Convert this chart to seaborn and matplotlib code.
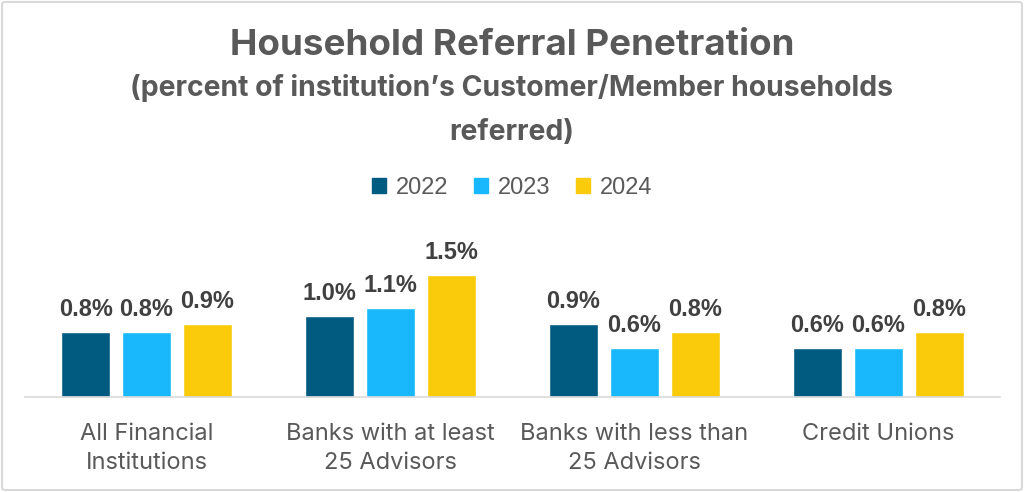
import pandas as pd
import matplotlib.pyplot as plt
import seaborn as sns
from matplotlib.patches import FancyBboxPatch

# data
groups = ["All Financial\nInstitutions", "Banks with at least\n25 Advisors",
          "Banks with less than\n25 Advisors", "Credit Unions"]
years = ["2022", "2023", "2024"]
v2022 = [0.8, 1.0, 0.9, 0.6]
v2023 = [0.8, 1.1, 0.6, 0.6]
v2024 = [0.9, 1.5, 0.8, 0.8]
colors = ["#015A80", "#19B8FC", "#F9CB0B"]

df = pd.DataFrame({
    "group": groups * 3,
    "year": [y for y in years for _ in groups],
    "value": v2022 + v2023 + v2024,
})

sns.set_style("white")
plt.rcParams["font.family"] = ["Liberation Sans", "DejaVu Sans"]
TITLE_FONT = ["Inter", "DejaVu Sans"]

fig = plt.figure(figsize=(10.24, 4.92), dpi=100)
ax = fig.add_axes([0.024, 0.193, 0.953, 0.33])

sns.barplot(data=df, x="group", y="value", hue="year", order=groups,
            hue_order=years, palette=colors, width=0.75, gap=0.2,
            saturation=1, ax=ax, legend=False)

for cont in ax.containers:
    ax.bar_label(cont, labels=[f"{v:.1f}%" for v in cont.datavalues],
                 padding=8, fontsize=17, fontweight="bold", color="#404040")

ax.set_ylim(0, 2.0)
ax.set_xlim(-0.5, 3.5)
ax.set_yticks([])
ax.set_xlabel("")
ax.set_ylabel("")
for s in ["top", "right", "left"]:
    ax.spines[s].set_visible(False)
ax.spines["bottom"].set_color("#D9D9D9")
ax.spines["bottom"].set_linewidth(1.2)
ax.tick_params(axis="x", length=0, pad=19, labelsize=17, labelcolor="#595959")
for t in ax.get_xticklabels():
    t.set_family(TITLE_FONT)
    t.set_linespacing(1.4)

# legend
handles = [plt.Rectangle((0, 0), 1, 1, color=c) for c in colors]
fig.legend(handles, years, loc="center", bbox_to_anchor=(0.5, 0.618), ncol=3,
           frameon=False, fontsize=17, labelcolor="#595959", handlelength=0.6,
           handleheight=0.6, handletextpad=0.4, columnspacing=1.1)

# titles
fig.text(0.5, 0.908, "Household Referral Penetration", ha="center", va="center",
         fontsize=26.5, fontweight="bold", color="#595959", family=TITLE_FONT)
fig.text(0.5, 0.821, "(percent of institution\u2019s Customer/Member households",
         ha="center", va="center", fontsize=20.4, fontweight="bold", color="#595959",
         family=TITLE_FONT)
fig.text(0.5, 0.73, "referred)", ha="center", va="center", fontsize=20.4,
         fontweight="bold", color="#595959", family=TITLE_FONT)

# outer border
fig.patches.append(FancyBboxPatch((0.002, 0.004), 0.996, 0.992,
                                  boxstyle="round,pad=0,rounding_size=0.004",
                                  transform=fig.transFigure, fill=False,
                                  edgecolor="#D9D9D9", linewidth=1.5))

fig.savefig("out.png", dpi=100)
